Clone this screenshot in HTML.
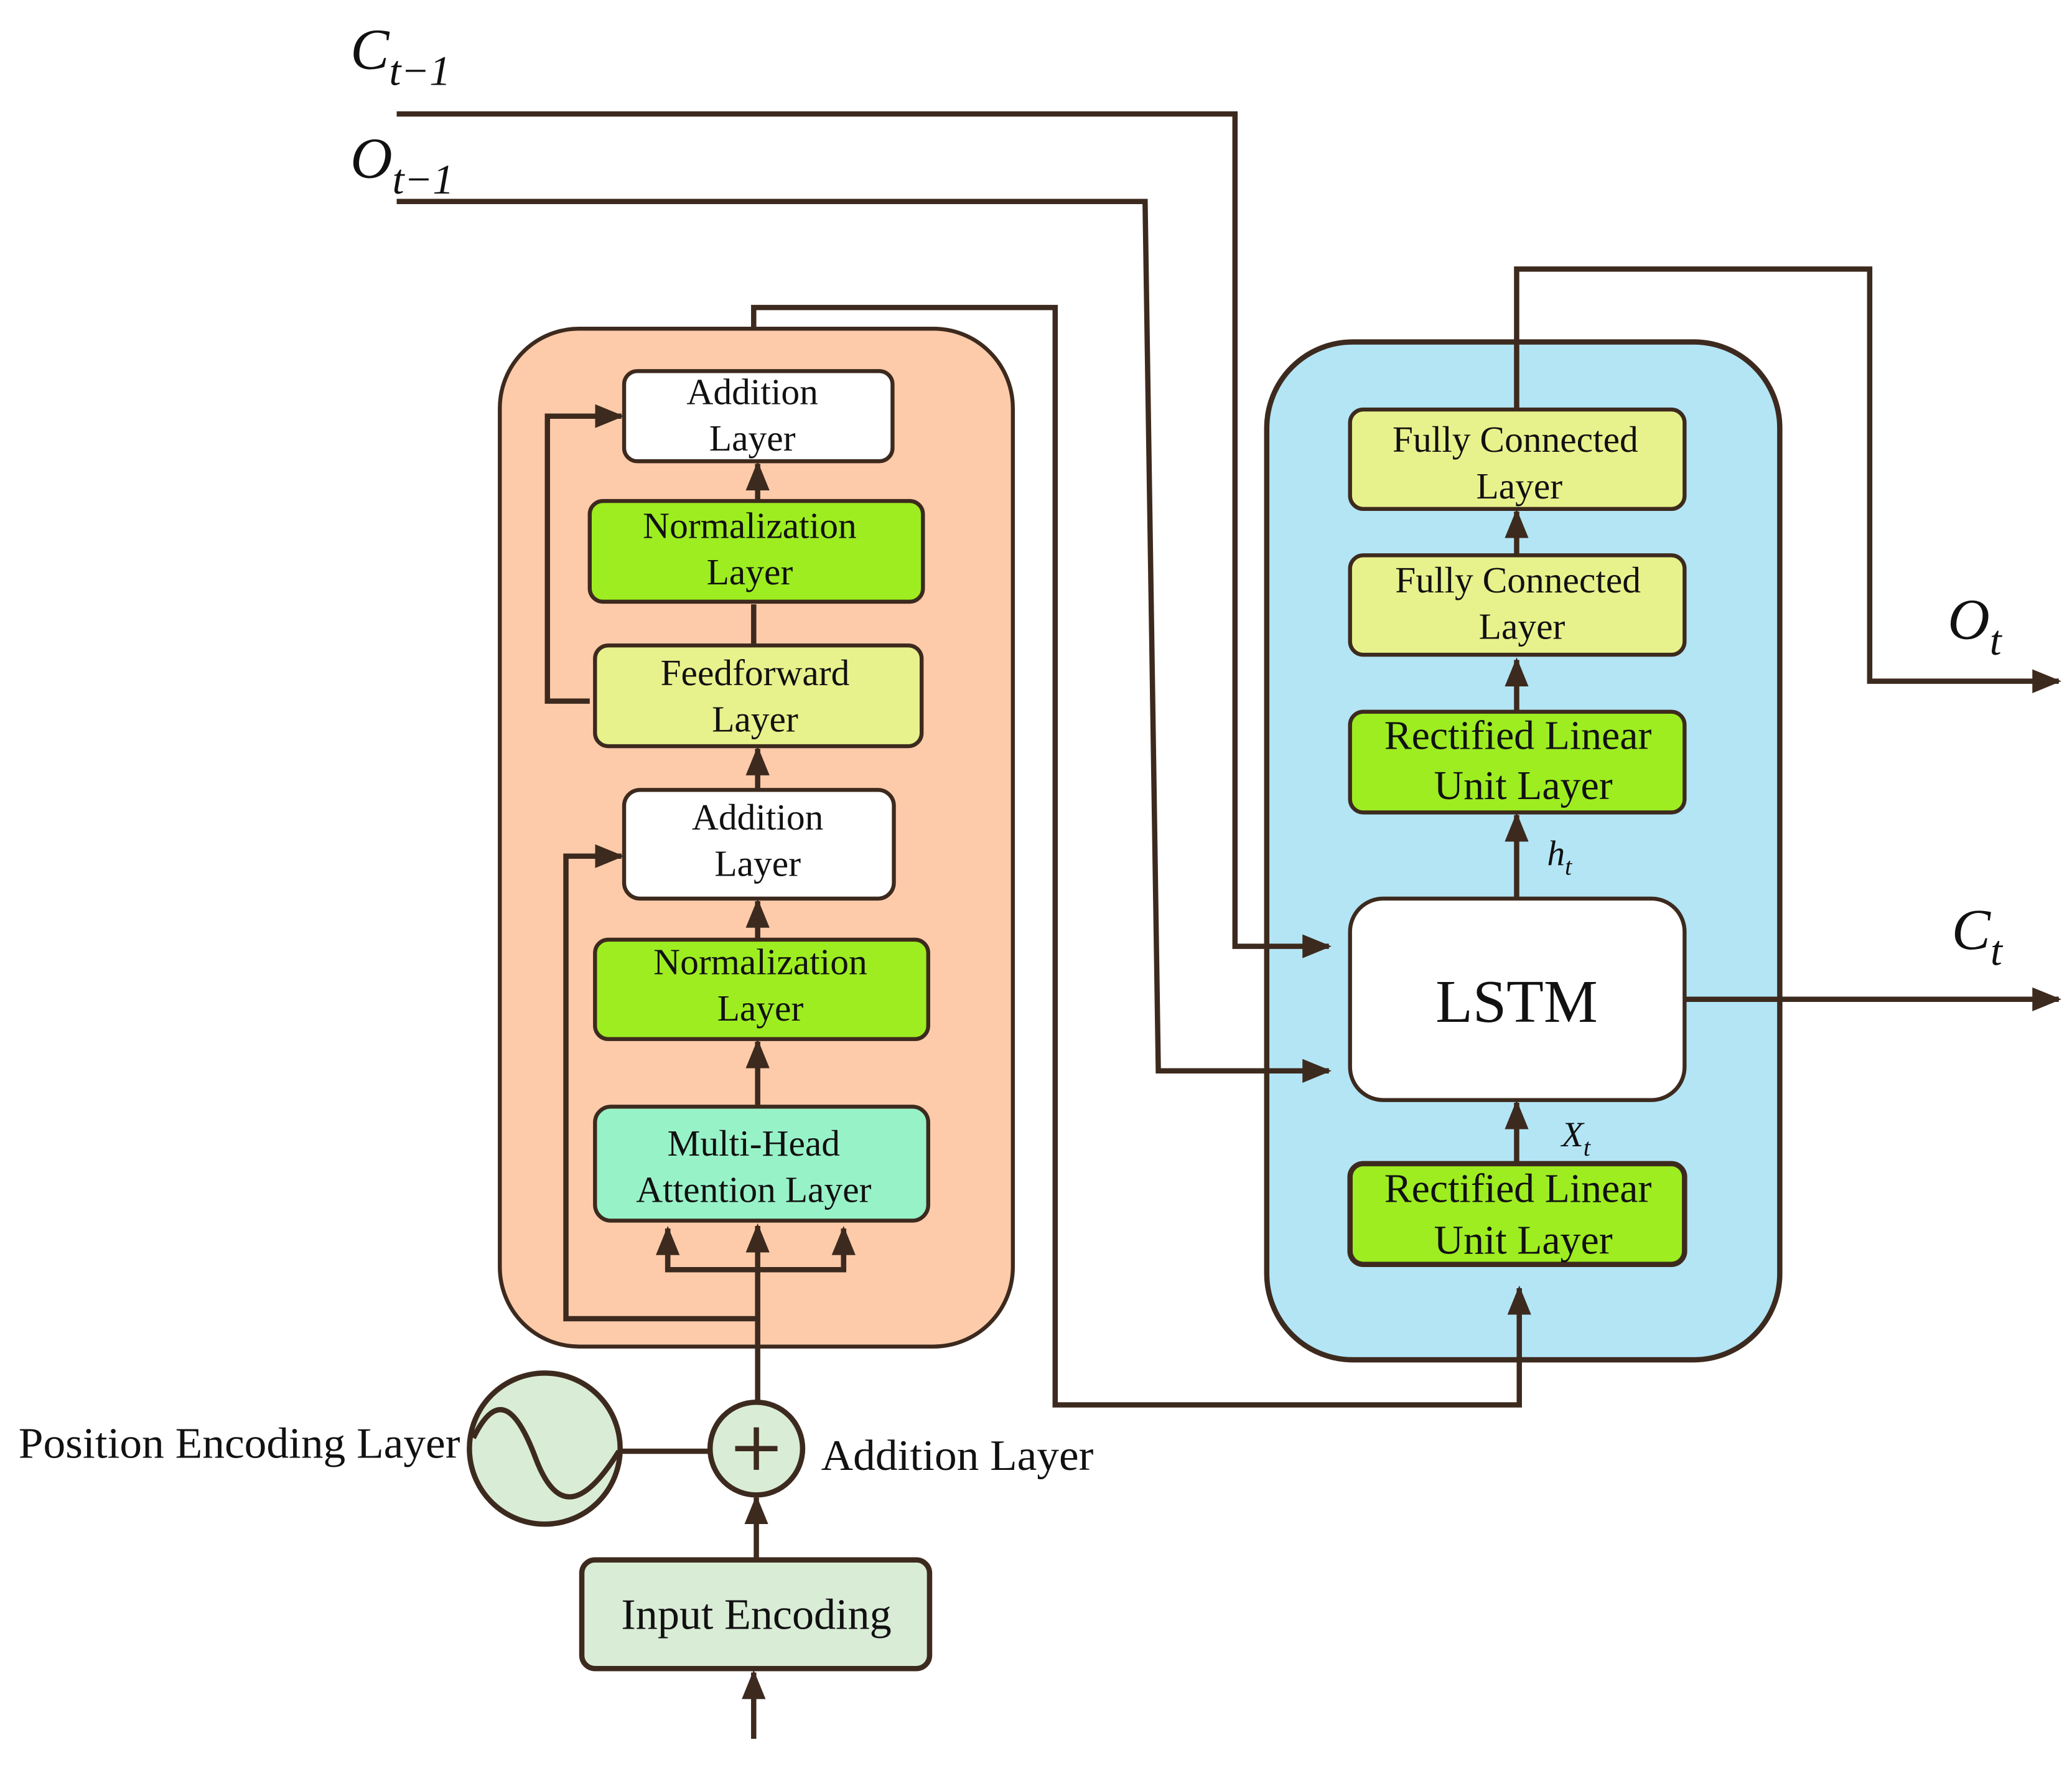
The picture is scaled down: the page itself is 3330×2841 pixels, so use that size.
<!DOCTYPE html>
<html><head><meta charset="utf-8"><style>
html,body{margin:0;padding:0;background:#fff;}
svg{display:block;}
text{font-family:"Liberation Serif",serif;fill:#111;}
</style></head><body>
<svg width="3330" height="2841" viewBox="0 0 1567 1334" preserveAspectRatio="none" xmlns="http://www.w3.org/2000/svg">
<defs>
<marker id="b" markerWidth="22" markerHeight="18" refX="20" refY="9" orient="auto" markerUnits="userSpaceOnUse" viewBox="0 0 22 18">
<path d="M0,0 L22,9 L0,18 z" fill="#3d2a1e"/></marker>
</defs>
<g stroke="#3d2a1e" stroke-width="4" fill="none">
<rect x="378" y="248" width="388" height="768" rx="60" fill="#fdcbaa" stroke-width="3"/>
<rect x="958" y="258" width="388" height="768" rx="65" fill="#b3e5f5"/>
<rect x="472" y="280" width="203" height="68" rx="10" fill="#fff" stroke-width="3"/>
<rect x="446" y="378" width="252" height="76" rx="10" fill="#9ded21" stroke-width="3"/>
<rect x="450" y="487" width="247" height="76" rx="10" fill="#e8f28c" stroke-width="3"/>
<rect x="472" y="596" width="204" height="82" rx="12" fill="#fff" stroke-width="3"/>
<rect x="450" y="709" width="252" height="75" rx="10" fill="#9ded21" stroke-width="3"/>
<rect x="450" y="835" width="252" height="86" rx="12" fill="#98f2c8" stroke-width="3"/>
<rect x="1021" y="309" width="253" height="75" rx="10" fill="#e8f28c" stroke-width="3"/>
<rect x="1021" y="419" width="253" height="75" rx="10" fill="#e8f28c" stroke-width="3"/>
<rect x="1021" y="537" width="253" height="76" rx="10" fill="#9ded21" stroke-width="3"/>
<rect x="1021" y="678" width="253" height="152" rx="25" fill="#fff" stroke-width="3"/>
<rect x="1021" y="878" width="253" height="76" rx="10" fill="#9ded21"/>
<rect x="440" y="1177" width="263" height="82" rx="10" fill="#d9ecd6"/>
<circle cx="412" cy="1093" r="57" fill="#d9ecd6"/>
<path d="M358,1085 C375,1050 390,1060 405,1100 C420,1140 440,1140 468,1095"/>
<circle cx="572" cy="1093" r="35" fill="#d9ecd6"/>
<path d="M556,1093 H588 M572,1077 V1109"/>
<line x1="469" y1="1095" x2="537" y2="1095"/>
<line x1="570" y1="1312" x2="570" y2="1262" marker-end="url(#b)"/>
<line x1="572" y1="1177" x2="572" y2="1130" marker-end="url(#b)"/>
<line x1="573" y1="1058" x2="573" y2="925" marker-end="url(#b)"/>
<polyline points="505,927 505,958 638,958 638,927"/>
<line x1="505" y1="958" x2="505" y2="927" marker-end="url(#b)"/>
<line x1="638" y1="958" x2="638" y2="927" marker-end="url(#b)"/>
<polyline points="573,995 428,995 428,646 470,646" marker-end="url(#b)"/>
<polyline points="446,529 414,529 414,314 470,314" marker-end="url(#b)"/>
<line x1="573" y1="835" x2="573" y2="786" marker-end="url(#b)"/>
<line x1="573" y1="709" x2="573" y2="680" marker-end="url(#b)"/>
<line x1="573" y1="596" x2="573" y2="565" marker-end="url(#b)"/>
<line x1="570" y1="487" x2="570" y2="456"/>
<line x1="573" y1="378" x2="573" y2="350" marker-end="url(#b)"/>
<polyline points="300,86 934,86 934,714 1005,714" marker-end="url(#b)"/>
<polyline points="300,152 866,152 876,808 1005,808" marker-end="url(#b)"/>
<polyline points="570,248 570,232 798,232 798,1060 1149,1060 1149,972" marker-end="url(#b)"/>
<polyline points="1147,309 1147,203 1414,203 1414,514 1557,514" marker-end="url(#b)"/>
<line x1="1274" y1="754" x2="1557" y2="754" marker-end="url(#b)"/>
<line x1="1147" y1="878" x2="1147" y2="832" marker-end="url(#b)"/>
<line x1="1147" y1="678" x2="1147" y2="615" marker-end="url(#b)"/>
<line x1="1147" y1="537" x2="1147" y2="498" marker-end="url(#b)"/>
<line x1="1147" y1="419" x2="1147" y2="386" marker-end="url(#b)"/>
</g>
<g font-size="28" text-anchor="middle">
<text x="569" y="305">Addition</text><text x="569" y="340">Layer</text>
<text x="567" y="406">Normalization</text><text x="567" y="441">Layer</text>
<text x="571" y="517">Feedforward</text><text x="571" y="552">Layer</text>
<text x="573" y="626">Addition</text><text x="573" y="661">Layer</text>
<text x="575" y="735">Normalization</text><text x="575" y="770">Layer</text>
<text x="570" y="872">Multi-Head</text><text x="570" y="907">Attention Layer</text>
<text x="1146" y="341">Fully Connected</text><text x="1149" y="376">Layer</text>
<text x="1148" y="447">Fully Connected</text><text x="1151" y="482">Layer</text>
<text x="1148" y="565" font-size="31">Rectified Linear</text><text x="1152" y="603" font-size="31">Unit Layer</text>
<text x="1148" y="907" font-size="31">Rectified Linear</text><text x="1152" y="946" font-size="31">Unit Layer</text>
<text x="1147" y="771" font-size="46">LSTM</text>
<text x="572" y="1229" font-size="33">Input Encoding</text>
</g>
<text x="14" y="1100" font-size="33" textLength="334" lengthAdjust="spacingAndGlyphs">Position Encoding Layer</text>
<text x="621" y="1109" font-size="33" textLength="206" lengthAdjust="spacingAndGlyphs">Addition Layer</text>
<g font-style="italic">
<text x="1181" y="865" font-size="27">X<tspan font-size="19" dy="7">t</tspan></text>
<text x="1170" y="653" font-size="27">h<tspan font-size="19" dy="7">t</tspan></text>
<text x="265" y="52" font-size="44">C<tspan font-size="32" dy="12">t−1</tspan></text>
<text x="265" y="134" font-size="44">O<tspan font-size="32" dy="12">t−1</tspan></text>
<text x="1473" y="482" font-size="44">O<tspan font-size="32" dy="12">t</tspan></text>
<text x="1476" y="716" font-size="44">C<tspan font-size="32" dy="12">t</tspan></text>
</g>
</svg>
</body></html>
